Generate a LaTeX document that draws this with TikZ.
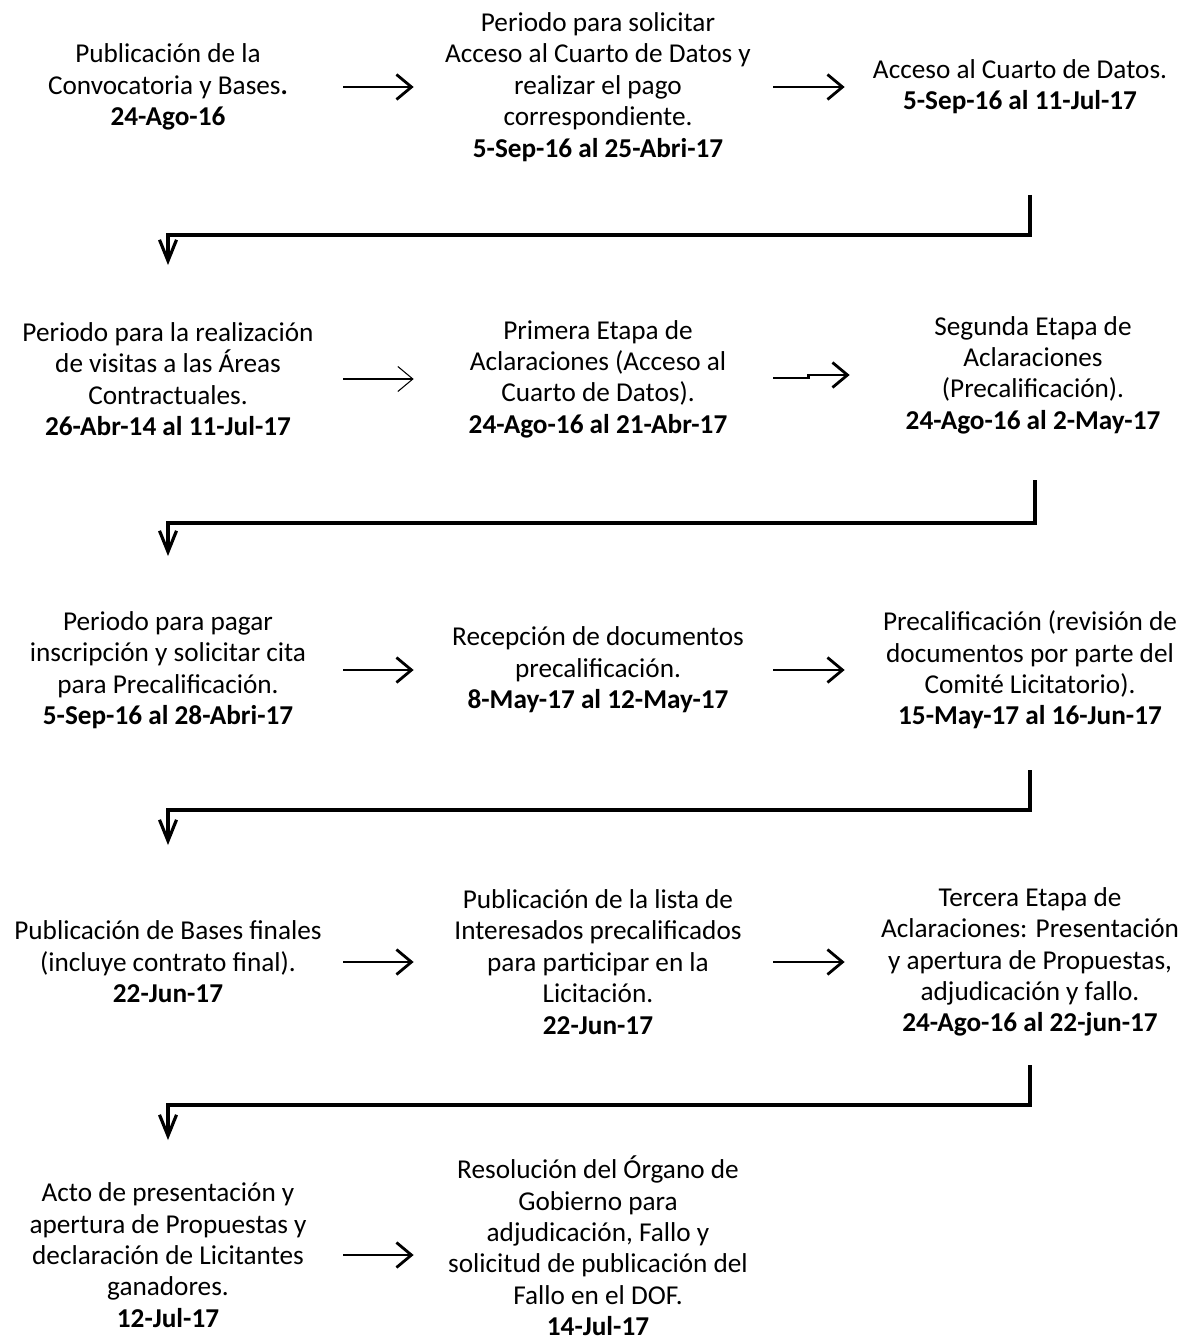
\documentclass[tikz,border=0pt]{standalone}
\usepackage{fontspec}
\setmainfont{Carlito}
\usetikzlibrary{
  positioning,
  arrows.meta,
  calc
}

\begin{document}
\begin{tikzpicture}[
  paso/.style={text width=6.6cm, align=flush center, inner sep=0pt, font=\fontsize{15.5pt}{17.85pt}\selectfont},
  arr/.style={-{Straight Barb[length=0.3cm, width=0.5cm]}, line width=1.6pt, shorten <=0.2cm, shorten >=0.38cm},
  thinarr/.style={arr, line width=0.6pt},
  elbow/.style={-{Straight Barb[length=0.42cm, width=0.34cm]}, line width=1.8pt}
]
  \useasboundingbox (0,0) rectangle (23.7,-26.82);

  % fila 1
  \node[paso] (pub) at (3.36,-1.74) {Publicación de la\\ Convocatoria y Bases\textbf{.}\\ \textbf{24-Ago-16}};
  \node[paso] (solicitar) at (11.96,-1.74) {Periodo para solicitar\\ Acceso al Cuarto de Datos y\\ realizar el pago\\ correspondiente.\\ \textbf{5-Sep-16 al 25-Abri-17}};
  \node[paso] (cuarto) at (20.4,-1.74) {Acceso al Cuarto de Datos.\\ \textbf{5-Sep-16 al 11-Jul-17}};

  % fila 2
  \node[paso] (visitas) at (3.36,-7.58) {Periodo para la realización\\ de visitas a las Áreas\\ Contractuales.\\ \textbf{26-Abr-14 al 11-Jul-17}};
  \node[paso] (primera) at (11.96,-7.58) {Primera Etapa de\\ Aclaraciones (Acceso al\\ Cuarto de Datos).\\ \textbf{24-Ago-16 al 21-Abr-17}};
  \node[paso] (segunda) at (20.66,-7.5) {Segunda Etapa de\\ Aclaraciones\\ (Precalificación).\\ \textbf{24-Ago-16 al 2-May-17}};

  % fila 3
  \node[paso] (pagar) at (3.36,-13.4) {Periodo para pagar\\ inscripción y solicitar cita\\ para Precalificación.\\ \textbf{5-Sep-16 al 28-Abri-17}};
  \node[paso] (recepcion) at (11.96,-13.4) {Recepción de documentos\\ precalificación.\\ \textbf{8-May-17 al 12-May-17}};
  \node[paso] (precalif) at (20.6,-13.4) {Precalificación (revisión de\\ documentos por parte del\\ Comité Licitatorio).\\ \textbf{15-May-17 al 16-Jun-17}};

  % fila 4
  \node[paso] (bases) at (3.36,-19.24) {Publicación de Bases finales\\ (incluye contrato final).\\ \textbf{22-Jun-17}};
  \node[paso] (lista) at (11.96,-19.24) {Publicación de la lista de\\ Interesados precalificados\\ para participar en la\\ Licitación.\\ \textbf{22-Jun-17}};
  \node[paso] (tercera) at (20.6,-19.24) {Tercera Etapa de\\ Aclaraciones: Presentación\\ y apertura de Propuestas,\\ adjudicación y fallo.\\ \textbf{24-Ago-16 al 22-jun-17}};

  % fila 5
  \node[paso] (acto) at (3.36,-25.1) {Acto de presentación y\\ apertura de Propuestas y\\ declaración de Licitantes\\ ganadores.\\ \textbf{12-Jul-17}};
  \node[paso] (resolucion) at (11.96,-24.92) {Resolución del Órgano de\\ Gobierno para\\ adjudicación, Fallo y\\ solicitud de publicación del\\ Fallo en el DOF.\\ \textbf{14-Jul-17}};

  % flechas
  \draw[arr] (pub) -- (solicitar);
  \draw[arr, shorten >=0.2cm] (solicitar) -- (cuarto);
  \draw[thinarr] (visitas) -- (primera);
  \draw[arr, shorten <=0pt, shorten >=0pt] ([xshift=0.2cm, yshift=0.02cm]primera.east) -- ++(0.7,0) |- ([xshift=-0.36cm]segunda.west);
  \draw[arr] (pagar) -- (recepcion);
  \draw[arr, shorten >=0.4cm] (recepcion) -- (precalif);
  \draw[arr] (bases) -- (lista);
  \draw[arr, shorten >=0.4cm] (lista) -- (tercera);
  \draw[arr] (acto.east) -- (acto -| resolucion.west);

  % quiebres entre filas
  \draw[elbow] ($(cuarto)+(0.2,-2.16)$) |- ($(visitas)+(0,2.88)$) -- ($(visitas)+(0,2.28)$);
  \draw[elbow] ($(segunda)+(0.04,-2.1)$) |- ($(pagar)+(0,2.94)$) -- ($(pagar)+(0,2.28)$);
  \draw[elbow] ($(precalif)+(0,-2.0)$) |- ($(bases)+(0,3.04)$) -- ($(bases)+(0,2.34)$);
  \draw[elbow] ($(tercera)+(0,-2.06)$) |- ($(acto)+(0,3.0)$) -- ($(acto)+(0,2.3)$);
\end{tikzpicture}
\end{document}
